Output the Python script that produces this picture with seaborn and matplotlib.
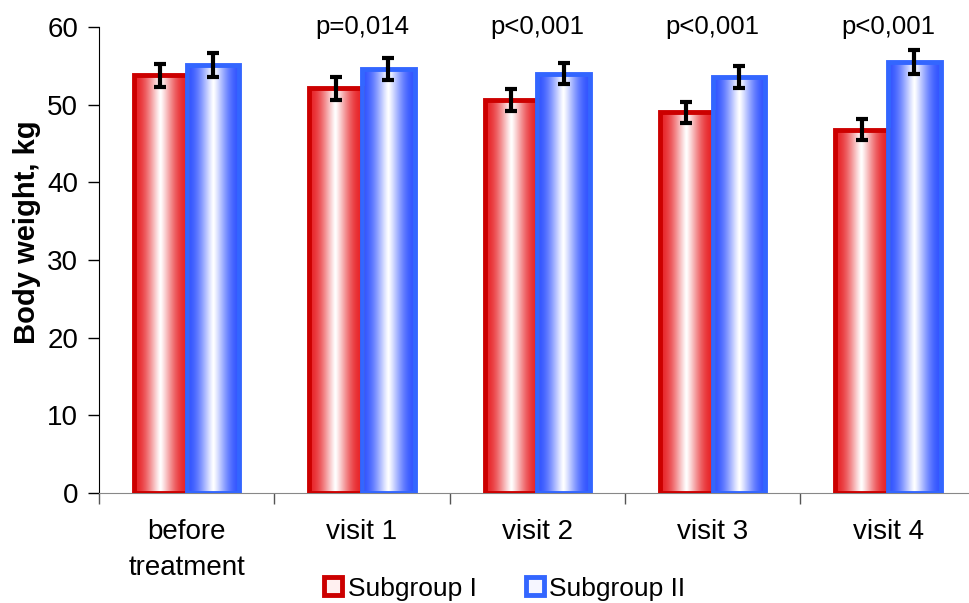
import numpy as np
import pandas as pd
import matplotlib
matplotlib.use("Agg")
import matplotlib.pyplot as plt
import seaborn as sns
from matplotlib.colors import LinearSegmentedColormap
from matplotlib.lines import Line2D

visits = ["before\ntreatment", "visit 1", "visit 2", "visit 3", "visit 4"]
subgroup1 = [53.8, 52.1, 50.6, 49.0, 46.8]
subgroup2 = [55.1, 54.6, 54.0, 53.6, 55.5]
err1 = [1.5, 1.5, 1.4, 1.4, 1.4]
err2 = [1.5, 1.4, 1.4, 1.4, 1.5]
pvalues = ["", "p=0,014", "p<0,001", "p<0,001", "p<0,001"]
groups = ["Subgroup I", "Subgroup II"]

df = pd.DataFrame({
    "visit": visits * 2,
    "weight": subgroup1 + subgroup2,
    "group": [groups[0]] * 5 + [groups[1]] * 5,
})

sns.set_style("white", {"text.color": "black", "axes.labelcolor": "black",
                        "xtick.color": "black", "ytick.color": "black"})
plt.rcParams["font.family"] = ["Liberation Sans", "DejaVu Sans"]

edge_colors = {groups[0]: "#CC0000", groups[1]: "#3366FF"}
fill_colors = {groups[0]: "#E8262A", groups[1]: "#3355FF"}

fig = plt.figure(figsize=(9.69, 6.03), dpi=100)
ax = fig.add_axes([0.102, 0.1824, 0.905, 0.7728])

sns.barplot(data=df, x="visit", y="weight", hue="group", order=visits,
            hue_order=groups, palette=edge_colors, width=0.6, errorbar=None,
            legend=False, ax=ax)

# gradient fill: edge colour -> white -> edge colour
xs = np.linspace(0, 1, 200)
profile = 1 - np.abs(np.cos(np.pi * xs)) ** 1.2
for i, patch in enumerate(ax.patches):
    g = groups[i // len(visits)]
    cmap = LinearSegmentedColormap.from_list("g", [fill_colors[g], "white"])
    x0, y0 = patch.get_x(), patch.get_y()
    w, h = patch.get_width(), patch.get_height()
    patch.set_facecolor("none")
    patch.set_edgecolor(edge_colors[g])
    patch.set_linewidth(3.5)
    patch.set_zorder(3)
    im = ax.imshow(profile[np.newaxis, :], cmap=cmap, aspect="auto",
                   extent=[x0, x0 + w, y0, y0 + h], zorder=2, vmin=0, vmax=1)
    im.set_clip_path(patch)

# error bars
pos = np.arange(len(visits))
ax.errorbar(pos - 0.15, subgroup1, yerr=err1, fmt="none", ecolor="black",
            elinewidth=3, capsize=4.5, capthick=3, zorder=5)
ax.errorbar(pos + 0.15, subgroup2, yerr=err2, fmt="none", ecolor="black",
            elinewidth=3, capsize=4.5, capthick=3, zorder=5)

for i, p in enumerate(pvalues):
    if p:
        ax.text(i, 60, p, ha="center", va="center", fontsize=18.5,
                color="black", clip_on=False)

ax.set_xlim(-0.5, 4.5)
ax.set_ylim(0, 60)
ax.set_yticks(range(0, 61, 10))
ax.tick_params(axis="y", labelsize=20, length=8, width=1, direction="out",
               left=True, pad=7, colors="black")
ax.set_xticks(np.arange(-0.5, 4.6, 1))
ax.set_xticklabels([])
ax.set_xticks(pos, minor=True)
ax.set_xticklabels(visits, minor=True, fontsize=20, linespacing=1.5)
ax.tick_params(axis="x", which="major", length=8, width=1, direction="out",
               bottom=True, color="#555555")
ax.tick_params(axis="x", which="minor", length=0, pad=19, labelcolor="black")

for s in ["top", "right"]:
    ax.spines[s].set_visible(False)
ax.spines["left"].set_color("black")
ax.spines["bottom"].set_color("#888888")
ax.set_xlabel("")
ax.set_ylabel("Body weight, kg", fontsize=21, fontweight="bold", color="black")
ax.yaxis.set_label_coords(-0.066, 0.56)

handles = [Line2D([0], [0], marker="s", linestyle="none", markersize=12.5,
                  markerfacecolor="#F6F6FF" if g == groups[1] else "#FFF0F0",
                  markeredgecolor=edge_colors[g], markeredgewidth=3.5)
           for g in groups]
fig.legend(handles, groups, loc="center", bbox_to_anchor=(0.52, 0.024),
           ncol=2, frameon=False, fontsize=19, handletextpad=0.15,
           columnspacing=1.8, handlelength=0.8)

fig.savefig("out.png", dpi=100)
